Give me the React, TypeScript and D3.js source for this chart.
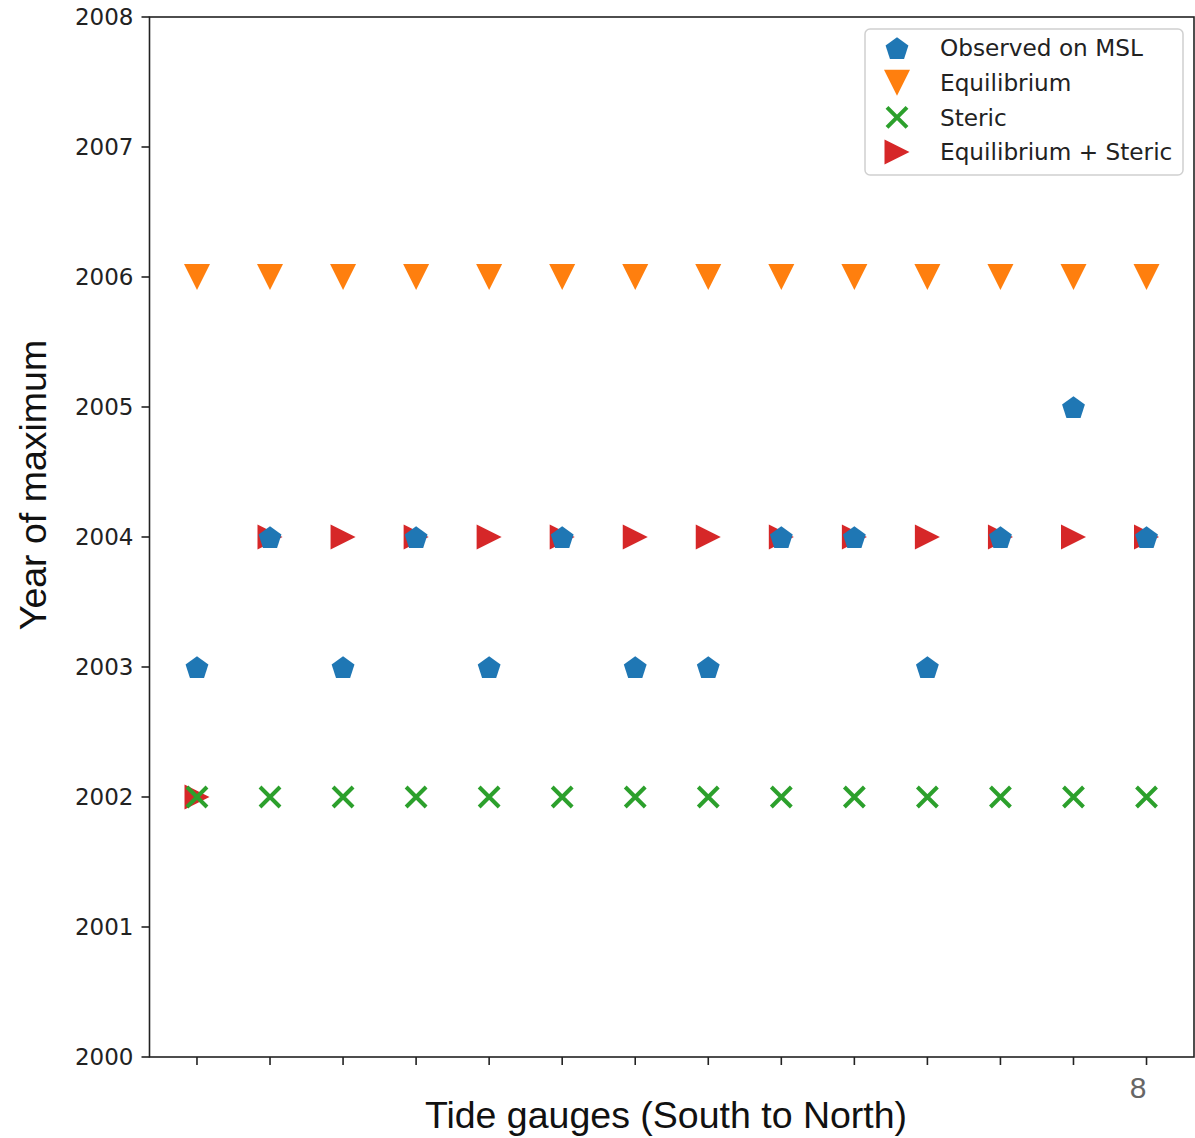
import React, { useEffect, useRef } from "react";
import * as d3 from "d3";

const gauges = [1, 2, 3, 4, 5, 6, 7, 8, 9, 10, 11, 12, 13, 14];
const observed = [2003, 2004, 2003, 2004, 2003, 2004, 2003, 2003, 2004, 2004, 2003, 2004, 2005, 2004];
const equilibrium = [2006, 2006, 2006, 2006, 2006, 2006, 2006, 2006, 2006, 2006, 2006, 2006, 2006, 2006];
const steric = [2002, 2002, 2002, 2002, 2002, 2002, 2002, 2002, 2002, 2002, 2002, 2002, 2002, 2002];
const eqSteric = [2002, 2004, 2004, 2004, 2004, 2004, 2004, 2004, 2004, 2004, 2004, 2004, 2004, 2004];
const yTicks = [2000, 2001, 2002, 2003, 2004, 2005, 2006, 2007, 2008];
const legendLabels = ["Observed on MSL", "Equilibrium", "Steric", "Equilibrium + Steric"];

const W = 1195;
const H = 1138;
const colors = { blue: "#1f77b4", orange: "#ff7f0e", green: "#2ca02c", red: "#d62728" };

function pentagon(r: number) {
  const pts: [number, number][] = [];
  for (let k = 0; k < 5; k++) {
    const a = -Math.PI / 2 + (k * 2 * Math.PI) / 5;
    pts.push([r * Math.cos(a), r * Math.sin(a) + r * 0.1]);
  }
  return "M" + pts.map((p) => p.join(",")).join("L") + "Z";
}
function triDown(s: number) {
  return `M${-s},${-s}L${s},${-s}L0,${s}Z`;
}
function triRight(s: number) {
  return `M${-s},${-s}L${s},0L${-s},${s}Z`;
}
function cross(s: number) {
  return `M${-s},${-s}L${s},${s}M${-s},${s}L${s},${-s}`;
}

export default function App() {
  const ref = useRef<SVGSVGElement>(null);
  useEffect(() => {
    const svg = d3.select(ref.current);
    svg.selectAll("*").remove();
    const left = 149.5, right = 1194, top = 17, bottom = 1057;
    const x = d3.scaleLinear().domain([0.35, 14.65]).range([left, right]);
    const y = d3.scaleLinear().domain([2000, 2008]).range([bottom, top]);

    svg.append("rect").attr("width", W).attr("height", H).attr("fill", "#fff");

    // frame
    svg.append("rect").attr("x", left).attr("y", top).attr("width", right - left).attr("height", bottom - top)
      .attr("fill", "none").attr("stroke", "#222").attr("stroke-width", 1.6);

    // y ticks
    const yg = svg.append("g");
    yTicks.forEach((t) => {
      yg.append("line").attr("x1", left - 8).attr("x2", left).attr("y1", y(t)).attr("y2", y(t)).attr("stroke", "#222").attr("stroke-width", 1.6);
      yg.append("text").attr("x", left - 16).attr("y", y(t)).attr("dy", "0.35em").attr("text-anchor", "end")
        .attr("font-family", "DejaVu Sans").attr("font-size", 23).attr("fill", "#222").text(String(t));
    });
    // x ticks
    gauges.forEach((g) => {
      svg.append("line").attr("x1", x(g)).attr("x2", x(g)).attr("y1", bottom).attr("y2", bottom + 8).attr("stroke", "#222").attr("stroke-width", 1.6);
    });

    const draw = (vals: number[], d: string, fill: string | null, stroke: string | null, sw = 0) => {
      svg.append("g").selectAll("path").data(vals).join("path")
        .attr("transform", (v, i) => `translate(${x(gauges[i])},${y(v)})`)
        .attr("d", d)
        .attr("fill", fill ?? "none")
        .attr("stroke", stroke ?? "none")
        .attr("stroke-width", sw);
    };
    draw(eqSteric, triRight(12.5), colors.red, null);
    draw(equilibrium, triDown(13), colors.orange, null);
    draw(steric, cross(10), null, colors.green, 4);
    draw(observed, pentagon(12), colors.blue, null);

    // legend
    const lg = svg.append("g");
    lg.append("rect").attr("x", 865).attr("y", 29).attr("width", 318).attr("height", 146).attr("rx", 5)
      .attr("fill", "#fff").attr("stroke", "#d0d0d0").attr("stroke-width", 1.5);
    const sym = [
      { d: pentagon(12), fill: colors.blue, stroke: null, sw: 0 },
      { d: triDown(13), fill: colors.orange, stroke: null, sw: 0 },
      { d: cross(10), fill: null, stroke: colors.green, sw: 4 },
      { d: triRight(12.5), fill: colors.red, stroke: null, sw: 0 },
    ];
    legendLabels.forEach((lab, i) => {
      const cy = 48 + i * 34.7;
      const s = sym[i];
      lg.append("path").attr("transform", `translate(897,${cy})`).attr("d", s.d)
        .attr("fill", s.fill ?? "none").attr("stroke", s.stroke ?? "none").attr("stroke-width", s.sw);
      lg.append("text").attr("x", 940).attr("y", cy).attr("dy", "0.35em").attr("font-family", "DejaVu Sans")
        .attr("font-size", 23.2).attr("fill", "#222").text(lab);
    });

    // axis labels
    svg.append("text").attr("transform", `translate(46,${485}) rotate(-90)`).attr("text-anchor", "middle")
      .attr("font-family", "Liberation Sans, Arial").attr("font-size", 37.5).attr("fill", "#111").text("Year of maximum");
    svg.append("text").attr("x", 666).attr("y", 1128).attr("text-anchor", "middle")
      .attr("font-family", "Liberation Sans, Arial").attr("font-size", 37.5).attr("fill", "#111").text("Tide gauges (South to North)");
    svg.append("text").attr("x", 1138).attr("y", 1098).attr("text-anchor", "middle")
      .attr("font-family", "Liberation Sans, Arial").attr("font-size", 30).attr("fill", "#666").text("8");
  }, []);
  return (
    <svg ref={ref} width={W} height={H} style={{ position: "absolute", left: 0, top: 0, display: "block" }} />
  );
}
